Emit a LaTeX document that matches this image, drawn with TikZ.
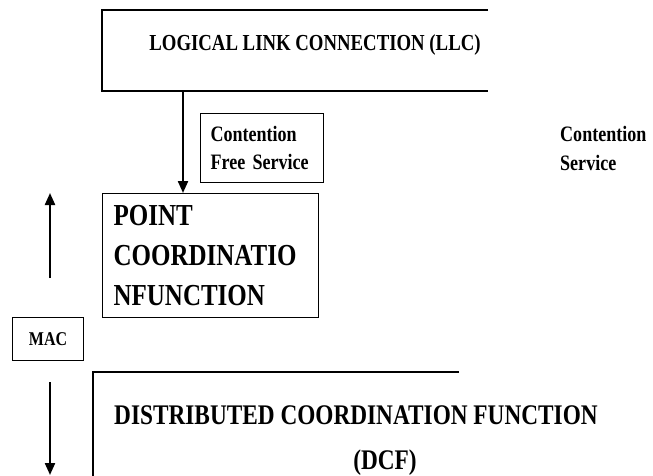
\documentclass[tikz,border=0pt]{standalone}
\usepackage{fontspec}
\setmainfont{Liberation Serif}[FakeStretch=0.82]
\usetikzlibrary{arrows.meta}
\begin{document}
\begin{tikzpicture}[x=1pt,y=-1pt]
      \useasboundingbox (0,0) rectangle (653,476);
      \tikzstyle{every node} = [inner sep=0pt]
      \tikzstyle{box} = [draw, line width=1.1pt]
      \tikzstyle{flow} = [line width=2.2pt, -{Triangle[length=12pt,width=10pt]}]

      % LLC frame, open on the right
      \draw[line width=1.1pt] (488,10) -- (102,10) -- (102,91) -- (488,91);
      \node[font=\bfseries\fontsize{22.9}{26}\selectfont] (llc) at (315,45) {LOGICAL LINK CONNECTION (LLC)};
      \coordinate(llctap) at (183,91);

      \node[box, anchor=north west, minimum width=123, minimum height=69,
            text width=103, inner xsep=10, align=left,
            font=\bfseries\fontsize{22}{28}\selectfont] (cfs) at (200,113)
            {Contention\\Free Service};

      \node[anchor=north west, align=left,
            font=\bfseries\fontsize{22}{29}\selectfont] (cs) at (560,126)
            {Contention\\Service};

      \node[box, anchor=north west, minimum width=216, minimum height=124,
            text width=194, inner xsep=11, align=left,
            font=\bfseries\fontsize{30.5}{40}\selectfont] (pcf) at (102,193)
            {POINT\\COORDINATIO\\NFUNCTION};

      \node[box, anchor=north west, minimum width=71, minimum height=43,
            font=\bfseries\fontsize{19.5}{22}\selectfont] (mac) at (12,317) {MAC};

      % DCF frame, open on the right and below
      \draw[line width=1.1pt] (459,372) -- (93,372) -- (93,480);
      \node[font=\bfseries\fontsize{28.4}{30}\selectfont] (dcf) at (356,415) {DISTRIBUTED COORDINATION FUNCTION};
      \node[font=\bfseries\fontsize{28.4}{30}\selectfont] (dcfab) at (385,463) {(DCF)};

      \coordinate(uplo) at (50,278);
      \coordinate(uphi) at (50,193);
      \coordinate(dnhi) at (50,382);
      \coordinate(dnlo) at (50,475);

      \path[flow]
      (llctap) edge (llctap |- pcf.north)
      (uplo) edge (uphi)
      (dnhi) edge (dnlo);
\end{tikzpicture}
\end{document}
